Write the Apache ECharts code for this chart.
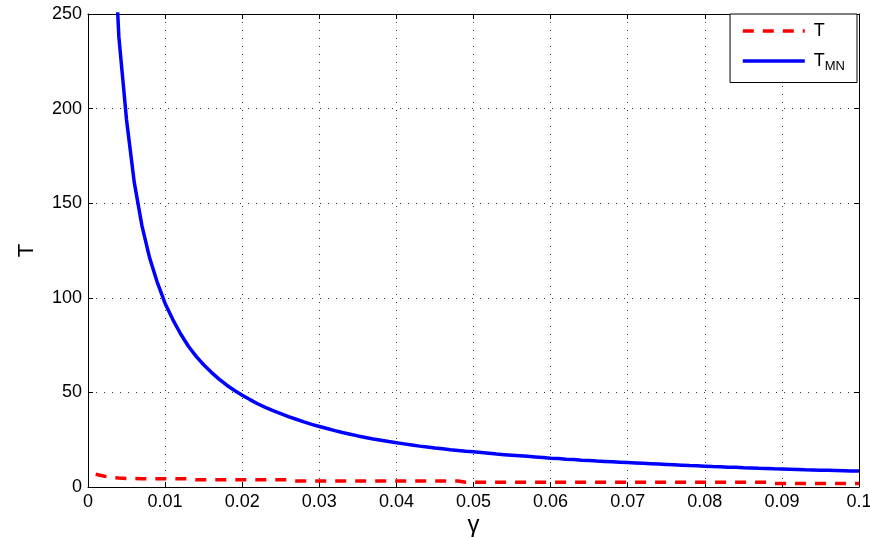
<!DOCTYPE html>
<html>
<head>
<meta charset="utf-8">
<script src="https://cdn.jsdelivr.net/npm/echarts@6/dist/echarts.min.js"></script>
<style>
html,body{margin:0;padding:0;background:#fff;}
#chart{width:870px;height:537px;}
</style>
</head>
<body>
<div id="chart"></div>
<script>
const gamma = [0.001,0.002,0.003,0.004,0.005,0.006,0.007,0.008,0.009,0.010,
0.011,0.012,0.013,0.014,0.015,0.016,0.017,0.018,0.019,0.020,
0.021,0.022,0.023,0.024,0.025,0.026,0.027,0.028,0.029,0.030,
0.031,0.032,0.033,0.034,0.035,0.036,0.037,0.038,0.039,0.040,
0.041,0.042,0.043,0.044,0.045,0.046,0.047,0.048,0.049,0.050,
0.051,0.052,0.053,0.054,0.055,0.056,0.057,0.058,0.059,0.060,
0.061,0.062,0.063,0.064,0.065,0.066,0.067,0.068,0.069,0.070,
0.071,0.072,0.073,0.074,0.075,0.076,0.077,0.078,0.079,0.080,
0.081,0.082,0.083,0.084,0.085,0.086,0.087,0.088,0.089,0.090,
0.091,0.092,0.093,0.094,0.095,0.096,0.097,0.098,0.099,0.100];

const T = [6.7,5.8,5.0,4.7,4.5,4.5,4.4,4.4,4.4,4.3,
4.3,4.3,4.3,3.8,3.8,3.8,3.8,3.8,3.8,3.8,
3.8,3.8,3.8,3.8,3.8,3.8,3.2,3.2,3.2,3.2,
3.2,3.2,3.2,3.2,3.2,3.2,3.2,3.2,3.2,3.2,
3.2,3.2,3.2,3.2,3.2,3.2,3.2,3.2,2.5,2.5,
2.5,2.5,2.5,2.5,2.5,2.5,2.5,2.5,2.5,2.5,
2.5,2.5,2.5,2.5,2.5,2.5,2.5,2.5,2.5,2.5,
2.5,2.5,2.5,2.5,2.5,2.5,2.5,2.5,2.5,2.5,
2.5,2.5,2.5,2.5,2.5,2.5,2.5,2.5,1.9,1.9,
1.9,1.9,1.9,1.9,1.9,1.9,1.9,1.9,1.9,1.9];

const TMN = [980,490,325,238,194,161,138,121,108,97,
88.5,81,74.5,69.2,64.6,60.6,57,53.8,51,48.5,
46.2,44,42.1,40.4,38.8,37.2,35.8,34.4,33.1,32,
30.9,29.8,28.8,27.9,27,26.2,25.4,24.7,24,23.4,
22.8,22.2,21.6,21.1,20.6,20.2,19.7,19.3,18.9,18.6,
18.2,17.8,17.4,17.1,16.8,16.5,16.2,15.9,15.6,15.2,
15,14.7,14.5,14.2,14,13.7,13.5,13.3,13.1,12.9,
12.7,12.5,12.3,12.1,11.9,11.7,11.5,11.3,11.2,11,
10.8,10.7,10.5,10.4,10.2,10.1,9.9,9.8,9.6,9.5,
9.4,9.3,9.1,9,8.9,8.8,8.7,8.6,8.5,8.4];

const xTicks = [0,0.01,0.02,0.03,0.04,0.05,0.06,0.07,0.08,0.09,0.1];
const yTicks = [0,50,100,150,200,250];

const FONT = '"Liberation Sans", Arial, Helvetica, sans-serif';
const chart = echarts.init(document.getElementById('chart'));

const gridLine = {show:true, lineStyle:{color:'#333', width:1, type:[1,7]}};
const axisLine = {show:true, onZero:false, lineStyle:{color:'#000', width:1}};
const tickIn = {show:true, inside:true, length:5, lineStyle:{color:'#000', width:1}};

function fmtX(v){
  const m = xTicks.find(t => Math.abs(t - v) < 1e-9);
  if (m === undefined) return '';
  return m === 0 ? '0' : String(m);
}

const option = {
  animation:false,
  backgroundColor:'#fff',
  grid:{left:88, right:11, top:14, bottom:50, containLabel:false, outerBoundsMode:'none'},
  legend:{
    orient:'vertical', right:13, top:14,
    backgroundColor:'#fff', borderColor:'#000', borderWidth:1, borderRadius:0,
    padding:[8,12,10,11], itemGap:12, itemWidth:62, itemHeight:14,
    data:['T','TMN'],
    itemStyle:{color:'rgba(0,0,0,0)', borderWidth:0, opacity:0},
    lineStyle:{width:3.5},
    textStyle:{fontFamily:FONT, fontSize:18, color:'#000', padding:[0,0,0,4],
      rich:{
        a:{fontFamily:FONT, fontSize:18, color:'#000'},
        b:{fontFamily:FONT, fontSize:13, color:'#000', padding:[10,0,0,0]}
      }},
    formatter:function(name){ return name === 'TMN' ? '{a|T}{b|MN}' : name; }
  },
  xAxis:[{
    type:'value', min:0, max:0.1, interval:0.01,
    name:'γ', nameLocation:'middle', nameGap:26, nameMoveOverlap:false,
    nameTextStyle:{fontFamily:FONT, fontSize:24, color:'#000'},
    axisLine:axisLine, axisTick:tickIn, splitLine:gridLine,
    axisLabel:{fontFamily:FONT, fontSize:18, color:'#000', margin:6, showMinLabel:true, showMaxLabel:true, formatter:fmtX}
  },{
    type:'value', position:'top', min:0, max:0.1, interval:0.01,
    axisLine:axisLine, axisTick:tickIn, splitLine:{show:false}, axisLabel:{show:false}
  }],
  yAxis:[{
    type:'value', min:0, max:250, interval:50,
    name:'T', nameLocation:'middle', nameGap:50,
    nameTextStyle:{fontFamily:FONT, fontSize:22, color:'#000'},
    axisLine:axisLine, axisTick:tickIn, splitLine:gridLine,
    axisLabel:{fontFamily:FONT, fontSize:18, color:'#000', margin:6, showMinLabel:true, showMaxLabel:true,
      formatter:function(v){ return yTicks.indexOf(v) >= 0 ? String(v) : ''; }}
  },{
    type:'value', position:'right', min:0, max:250, interval:50,
    axisLine:axisLine, axisTick:tickIn, splitLine:{show:false}, axisLabel:{show:false}
  }],
  series:[{
    name:'T', type:'line', symbol:'none', clip:true,
    data: gamma.map((g,i) => [g, T[i]]),
    lineStyle:{color:'#ff0000', width:3.5, type:[11,9]},
    itemStyle:{color:'#ff0000'}, z:3
  },{
    name:'TMN', type:'line', symbol:'none', clip:true,
    data: gamma.map((g,i) => [g, TMN[i]]),
    lineStyle:{color:'#0000ff', width:3.5, type:'solid'},
    itemStyle:{color:'#0000ff'}, z:4
  }]
};
chart.setOption(option);
</script>
</body>
</html>
